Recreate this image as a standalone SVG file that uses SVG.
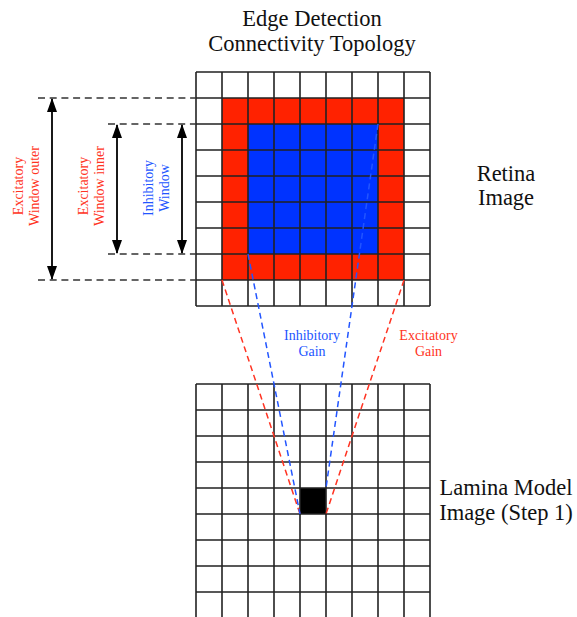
<svg xmlns="http://www.w3.org/2000/svg" width="577" height="617" viewBox="0 0 577 617">
  <style>
    .big { font-family: "Liberation Serif", "Times New Roman", serif; font-size: 22.5px; fill: #111; text-anchor: middle; }
    .small { font-family: "Liberation Serif", "Times New Roman", serif; font-size: 14px; text-anchor: middle; }
    .red { fill: #ff3322; }
    .blue { fill: #2255ff; }
    .grid { fill: none; stroke: #222; stroke-width: 1.6; }
    .guide { fill: none; stroke: #333; stroke-width: 1.5; stroke-dasharray: 7 4.7; }
    .span { fill: none; stroke: #000; stroke-width: 1.8; marker-start: url(#head); marker-end: url(#head); }
    .link-red { fill: none; stroke: #ff3322; stroke-width: 1.5; stroke-dasharray: 6 4; }
    .link-blue { fill: none; stroke: #2255ff; stroke-width: 1.5; stroke-dasharray: 6 4; }
  </style>
  <defs>
    <marker id="head" viewBox="0 0 14 10" refX="13" refY="5" markerWidth="14" markerHeight="10" markerUnits="userSpaceOnUse" orient="auto-start-reverse">
      <path d="M0,0 L14,5 L0,10 Z" fill="#000"/>
    </marker>
  </defs>
  <rect width="577" height="617" fill="#fff"/>

  <!-- title -->
  <g id="title">
    <text class="big" x="312" y="26">Edge Detection</text>
    <text class="big" x="312" y="50.5">Connectivity Topology</text>
  </g>

  <!-- retina image: 9x9 grid, excitatory ring (red) and inhibitory block (blue) -->
  <g id="retina">
    <rect x="222" y="98" width="182" height="182" fill="#ff2200"/>
    <rect x="248" y="124" width="130" height="130" fill="#0033ff"/>
    <path class="grid" d="M196,72V306M222,72V306M248,72V306M274,72V306M300,72V306M326,72V306M352,72V306M378,72V306M404,72V306M430,72V306
      M196,72H430M196,98H430M196,124H430M196,150H430M196,176H430M196,202H430M196,228H430M196,254H430M196,280H430M196,306H430"/>
  </g>

  <!-- lamina model image: grid with the target cell -->
  <g id="lamina">
    <rect x="300" y="488" width="26" height="26" fill="#000"/>
    <path class="grid" d="M196,384V620M222,384V620M248,384V620M274,384V620M300,384V620M326,384V620M352,384V620M378,384V620M404,384V620M430,384V620
      M196,384H430M196,410H430M196,436H430M196,462H430M196,488H430M196,514H430M196,540H430M196,566H430M196,592H430"/>
  </g>

  <!-- window extents -->
  <g id="window-extents">
    <path class="guide" d="M38,98H196M108,124H196M108,254H196M38,280H196"/>
    <line class="span" x1="52" y1="99" x2="52" y2="279"/>
    <line class="span" x1="117" y1="125" x2="117" y2="253"/>
    <line class="span" x1="182" y1="125" x2="182" y2="253"/>
  </g>

  <g id="label-excitatory-outer" class="small red" transform="translate(0,186) rotate(-90)">
    <text x="0" y="23">Excitatory</text>
    <text x="0" y="39">Window outer</text>
  </g>
  <g id="label-excitatory-inner" class="small red" transform="translate(0,186) rotate(-90)">
    <text x="0" y="87.5">Excitatory</text>
    <text x="0" y="103.5">Window inner</text>
  </g>
  <g id="label-inhibitory-window" class="small blue" transform="translate(0,188) rotate(-90)">
    <text x="0" y="152.5">Inhibitory</text>
    <text x="0" y="168.5">Window</text>
  </g>

  <!-- connectors from the windows to the lamina cell -->
  <g id="connectors">
    <line class="link-red" x1="222" y1="280" x2="300" y2="514"/>
    <line class="link-red" x1="404" y1="280" x2="326" y2="514"/>
    <line class="link-blue" x1="248" y1="254" x2="300" y2="514"/>
    <line class="link-blue" x1="378" y1="124" x2="326" y2="488"/>
  </g>

  <g id="label-inhibitory-gain" class="small blue">
    <text x="312" y="340">Inhibitory</text>
    <text x="312" y="356">Gain</text>
  </g>
  <g id="label-excitatory-gain" class="small red">
    <text x="428.5" y="340">Excitatory</text>
    <text x="428.5" y="356">Gain</text>
  </g>

  <g id="label-retina">
    <text class="big" x="506" y="180.5">Retina</text>
    <text class="big" x="506" y="205">Image</text>
  </g>
  <g id="label-lamina">
    <text class="big" x="506" y="495">Lamina Model</text>
    <text class="big" x="506" y="520">Image (Step 1)</text>
  </g>
</svg>
